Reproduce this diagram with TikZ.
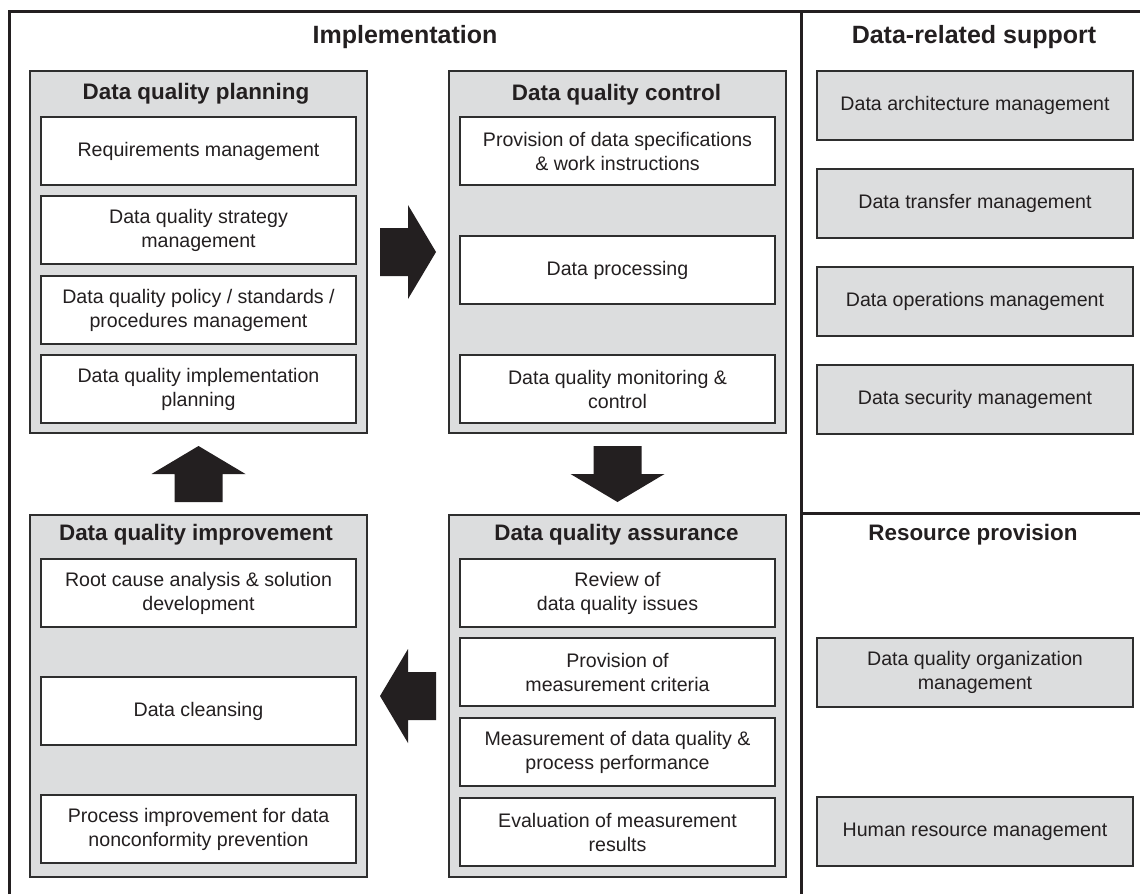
\documentclass[tikz,border=0pt]{standalone}
\usepackage{fontspec}
\setmainfont{Liberation Sans}
\usetikzlibrary{calc}
\definecolor{ink}{HTML}{231F20}
\definecolor{panel}{HTML}{DCDDDE}
\definecolor{edge}{HTML}{2E2E2E}

\begin{document}
\begin{tikzpicture}[x=1pt,y=-1pt,
  frame/.style={line width=3pt, draw=ink},
  group/.style={draw=edge, line width=2pt, fill=panel, anchor=north west,
    inner sep=0pt, minimum width=337, minimum height=362},
  item/.style={draw=edge, line width=2pt, fill=white, anchor=north west,
    inner sep=0pt, minimum width=315, minimum height=68, align=center,
    text=ink, font=\fontsize{19.6}{24}\selectfont},
  support/.style={item, fill=panel, minimum width=316, minimum height=69},
  grouptitle/.style={text=ink, font=\bfseries\fontsize{22.4}{26}\selectfont},
  headtitle/.style={text=ink, font=\bfseries\fontsize{25}{30}\selectfont},
  blockarrow/.style={fill=ink}
]
\useasboundingbox (0,0) rectangle (1140,894);

% outer frame and panel dividers
\draw[frame] (9,894) -- (9,11) -- (1140,11);
\draw[frame] (801,11) -- (801,894);
\draw[frame] (801,513) -- (1140,513);

% section headings
\node[headtitle] (impl) at (405,37) {Implementation};
\node[headtitle] (drs) at (974,37) {Data-related support};
\node[grouptitle] (rp) at (973,535) {Resource provision};

% process groups
\node[group] (plan) at (29,70) {};
\node[group] (ctrl) at (448,70) {};
\node[group] (impr) at (29,514) {};
\node[group] (assure) at (448,514) {};

\node[grouptitle] (plan-t) at (196,94) {Data quality planning};
\node[grouptitle] (ctrl-t) at (616.5,95) {Data quality control};
\node[grouptitle] (impr-t) at (196,535) {Data quality improvement};
\node[grouptitle] (assure-t) at (616.5,535) {Data quality assurance};

% planning activities
\node[item] (p1) at (40,116) {Requirements management};
\node[item] (p2) at (40,195) {Data quality strategy\\management};
\node[item] (p3) at (40,275) {Data quality policy / standards /\\procedures management};
\node[item] (p4) at (40,354) {Data quality implementation\\planning};

% control activities
\node[item] (c1) at (459,116) {Provision of data specifications\\\& work instructions};
\node[item] (c2) at (459,235) {Data processing};
\node[item] (c3) at (459,354) {Data quality monitoring \&\\control};

% improvement activities
\node[item] (i1) at (40,558) {Root cause analysis \& solution\\development};
\node[item] (i2) at (40,676) {Data cleansing};
\node[item] (i3) at (40,794) {Process improvement for data\\nonconformity prevention};

% assurance activities
\node[item] (q1) at (459,558) {Review of\\data quality issues};
\node[item] (q2) at (459,637) {Provision of\\measurement criteria};
\node[item] (q3) at (459,717) {Measurement of data quality \&\\process performance};
\node[item] (q4) at (459,797) {Evaluation of measurement\\results};

% data-related support
\node[support] (s1) at (816,70) {Data architecture management};
\node[support] (s2) at (816,168) {Data transfer management};
\node[support] (s3) at (816,266) {Data operations management};
\node[support] (s4) at (816,364) {Data security management};

% resource provision
\node[support] (r1) at (816,637) {Data quality organization\\management};
\node[support] (r2) at (816,796) {Human resource management};

% cycle arrows between the groups
\coordinate (a1) at ($(plan.east)!0.5!(ctrl.west)$);
\coordinate (a2) at ($(ctrl.south)!0.5!(assure.north)$);
\coordinate (a3) at ($(assure.west)!0.5!(impr.east)$);
\coordinate (a4) at ($(impr.north)!0.5!(plan.south)$);
\foreach \c/\r in {a1/0, a2/-90, a3/180, a4/90}{
  \fill[blockarrow, shift={(\c)}, rotate=\r]
    (-28,-24) -- (0,-24) -- (0,-47) -- (28,0) -- (0,47) -- (0,24) -- (-28,24) -- cycle;
}
\end{tikzpicture}
\end{document}
